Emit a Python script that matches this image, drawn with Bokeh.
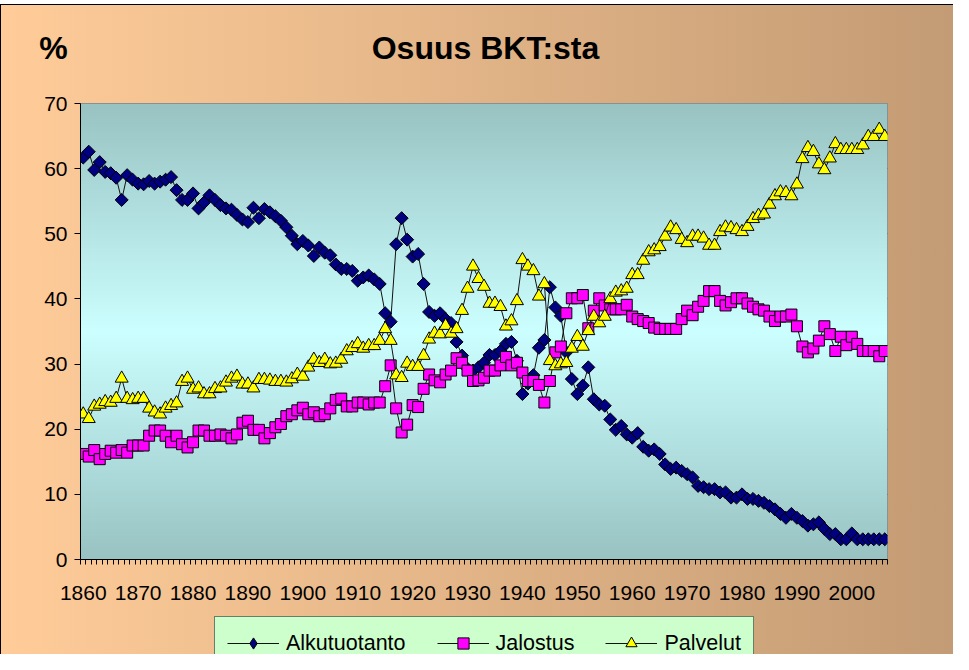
import numpy as np
from bokeh.plotting import figure
from bokeh.layouts import column
from bokeh.models import FixedTicker, Range1d, Legend, LegendItem, Label
from bokeh.embed import file_html
from bokeh.resources import INLINE

# ---------------- data ----------------
years = list(range(1860, 2007))

alkutuotanto = [
    61.7, 62.6, 59.8, 61.0, 59.5, 59.3, 58.6, 55.2, 59.0, 58.3,   # 1860s
    57.7, 57.6, 58.1, 57.7, 58.0, 58.3, 58.7, 56.7, 55.2, 55.2,   # 1870s
    56.2, 53.9, 54.8, 55.9, 55.2, 54.4, 53.9, 53.7, 52.9, 52.2,   # 1880s
    51.8, 54.0, 52.4, 53.8, 53.3, 52.7, 52.0, 51.0, 49.7, 48.4,   # 1890s
    48.9, 48.2, 46.6, 47.9, 47.1, 46.7, 45.3, 44.6, 44.6, 44.3,   # 1900s
    42.8, 43.3, 43.6, 43.0, 42.3, 37.8, 36.5, 48.4, 52.4, 49.1,   # 1910s
    46.5, 46.9, 42.3, 38.0, 37.4, 37.8, 36.9, 36.3, 33.4, 31.3,   # 1920s
    29.3, 29.0, 29.5, 30.2, 31.4, 31.4, 32.0, 33.1, 33.4, 30.5,   # 1930s
    25.4, 27.0, 28.3, 32.5, 33.7, 41.8, 38.7, 37.4, 31.8, 27.7,   # 1940s
    25.4, 26.7, 29.5, 24.6, 23.8, 23.6, 21.5, 19.9, 20.5, 19.2,   # 1950s
    18.7, 19.4, 17.3, 16.7, 16.9, 16.2, 14.6, 13.9, 14.1, 13.6,   # 1960s
    13.1, 12.6, 11.3, 11.1, 10.8, 10.8, 10.3, 10.3, 9.5, 9.5,     # 1970s
    10.0, 9.3, 9.3, 9.0, 8.7, 8.2, 7.7, 7.0, 6.4, 7.0,            # 1980s
    6.4, 5.9, 5.2, 5.4, 5.7, 4.7, 3.9, 3.9, 3.1, 3.1,             # 1990s
    4.0, 3.1, 3.1, 3.1, 3.1, 3.1, 3.1,                            # 2000-2006
]

jalostus = [
    16.2, 15.8, 16.8, 15.4, 16.2, 16.7, 16.4, 16.8, 16.4, 17.5,
    17.5, 17.5, 19.0, 19.8, 19.8, 19.0, 18.0, 19.0, 17.7, 17.2,
    18.0, 19.8, 19.8, 19.0, 19.0, 19.2, 19.0, 18.6, 19.2, 21.0,
    21.3, 19.9, 19.9, 18.6, 19.4, 20.3, 20.8, 22.0, 22.3, 22.9,
    23.3, 22.3, 22.6, 22.0, 22.3, 23.2, 24.5, 24.7, 23.5, 23.5,
    24.1, 24.1, 23.8, 24.1, 24.1, 26.6, 29.8, 23.2, 19.5, 20.7,
    23.7, 23.4, 26.2, 28.4, 27.5, 27.2, 28.4, 29.0, 30.9, 30.2,
    29.0, 27.4, 27.5, 27.9, 29.0, 29.0, 29.8, 31.1, 29.8, 30.2,
    28.7, 27.4, 27.4, 26.8, 24.1, 27.4, 31.8, 32.7, 37.8, 40.1,
    40.1, 40.6, 35.5, 38.2, 40.1, 39.0, 38.4, 38.4, 38.4, 39.1,
    37.3, 36.9, 36.6, 36.3, 35.6, 35.4, 35.4, 35.4, 35.4, 36.9,
    38.2, 37.5, 38.8, 39.7, 41.2, 41.2, 39.7, 39.0, 39.5, 40.1,
    40.1, 39.3, 38.8, 38.4, 38.2, 37.3, 36.6, 37.3, 37.3, 37.6,
    35.8, 32.7, 31.8, 32.4, 33.6, 35.8, 34.6, 32.0, 34.2, 32.9,
    34.2, 33.1, 32.0, 32.0, 32.0, 31.2, 32.0,
]

palvelut = [
    22.3, 21.6, 23.5, 23.8, 24.2, 24.1, 24.7, 27.8, 24.7, 24.5,
    24.7, 24.7, 23.2, 22.6, 22.3, 23.2, 23.6, 24.0, 27.3, 27.8,
    26.1, 26.3, 25.4, 25.4, 26.2, 26.3, 27.2, 27.8, 28.1, 26.9,
    26.9, 26.3, 27.6, 27.6, 27.5, 27.3, 27.3, 27.2, 27.7, 28.4,
    28.1, 29.5, 30.7, 30.2, 30.7, 30.0, 30.1, 30.7, 32.0, 32.5,
    33.1, 32.4, 32.8, 32.8, 33.6, 35.4, 33.6, 28.3, 27.9, 30.1,
    29.6, 29.6, 31.3, 33.8, 34.7, 34.6, 35.9, 34.7, 35.4, 38.2,
    41.6, 45.0, 43.1, 41.9, 39.3, 39.3, 38.8, 35.8, 36.6, 39.7,
    46.0, 45.0, 44.3, 40.4, 42.3, 30.5, 29.7, 30.0, 30.2, 32.4,
    34.2, 32.7, 35.1, 37.3, 36.3, 37.3, 40.0, 41.0, 41.2, 41.6,
    43.7, 43.7, 45.9, 47.2, 47.5, 48.0, 49.6, 51.0, 50.6, 49.1,
    48.6, 49.6, 49.6, 49.3, 48.2, 48.2, 50.3, 51.0, 50.9, 50.6,
    50.3, 51.1, 52.3, 52.8, 53.0, 54.5, 55.8, 56.4, 56.3, 55.8,
    57.6, 61.5, 63.2, 62.6, 60.7, 59.8, 61.6, 63.8, 62.9, 62.9,
    62.9, 62.9, 63.6, 64.9, 64.9, 66.0, 64.9,
]

x_label_years = list(range(1860, 2001, 10))
y_ticks = list(range(0, 71, 10))

series_names = ["Alkutuotanto", "Jalostus", "Palvelut"]
title_text = "Osuus BKT:sta"
unit_text = "%"

FONT = "Liberation Sans"
W = 953
H_HEAD, H_MAIN, H_LEG = 85, 526, 43
TOP_MAIN, FRAME_H = 18, 456

GRAD = "linear-gradient(to right, #FFCC99, #C39B74)"
LEFT_LINE = "linear-gradient(#000000,#000000) 0 0 / 1px 100% no-repeat"


def plain(fig):
    fig.border_fill_color = None
    fig.background_fill_color = None
    fig.outline_line_color = None
    fig.grid.visible = False


# ---------------- header (title and unit) ----------------
head = figure(width=W, height=H_HEAD, output_backend="svg", toolbar_location=None,
              x_range=Range1d(0, W), y_range=Range1d(0, H_HEAD),
              x_axis_location=None, y_axis_location=None, frame_align=False,
              min_border_left=0, min_border_right=0, min_border_top=0, min_border_bottom=0)
plain(head)
head.styles = {"background": ("linear-gradient(#ffffff,#ffffff) 0 0 / 100% 4px no-repeat, "
                              "linear-gradient(#000000,#000000) 0 4px / 100% 1px no-repeat, "
                              "linear-gradient(#000000,#000000) 0 4px / 1px 100% no-repeat, " + GRAD)}
head.add_layout(Label(x=485, y=H_HEAD - 47, text=title_text,
                      text_font=FONT, text_font_size="32px", text_font_style="bold",
                      text_align="center", text_baseline="middle", text_color="black"))
head.add_layout(Label(x=53, y=H_HEAD - 47, text=unit_text,
                      text_font=FONT, text_font_size="32px", text_font_style="bold",
                      text_align="center", text_baseline="middle", text_color="black"))

# ---------------- main plot ----------------
x0, x1 = years[0] - 0.5, years[-1] + 0.5
p = figure(width=W, height=H_MAIN, output_backend="svg", toolbar_location=None,
           x_range=Range1d(x0, x1), y_range=Range1d(y_ticks[0], y_ticks[-1]),
           frame_align=False,
           min_border_left=80, min_border_right=66, min_border_top=TOP_MAIN,
           min_border_bottom=H_MAIN - TOP_MAIN - FRAME_H)
p.border_fill_color = None
p.background_fill_color = None
p.outline_line_color = "#808080"
p.outline_line_width = 1
p.styles = {"background": LEFT_LINE + ", " + GRAD}

# plot-area gradient (dark at top and bottom, light in the middle)
n = 256
t = np.abs(np.linspace(-1, 1, n))
edge = np.array([0x99, 0xC3, 0xC3], dtype=float)
mid = np.array([0xCC, 0xFF, 0xFF], dtype=float)
cols = (mid[None, :] * (1 - t[:, None]) + edge[None, :] * t[:, None]).astype(np.uint32)
img = np.empty((n, 1), dtype=np.uint32)
img[:, 0] = (255 << 24) | (cols[:, 2] << 16) | (cols[:, 1] << 8) | cols[:, 0]
p.image_rgba(image=[img], x=x0, y=y_ticks[0], dw=x1 - x0, dh=y_ticks[-1] - y_ticks[0])

p.xgrid.visible = False
p.ygrid.ticker = FixedTicker(ticks=y_ticks)
p.ygrid.grid_line_color = "#1a1a1a"
p.ygrid.grid_line_width = 1

xa = p.xaxis[0]
xa.ticker = FixedTicker(ticks=x_label_years, minor_ticks=[y - 0.5 for y in years + [years[-1] + 1]])
xa.major_label_overrides = {y: str(y) for y in x_label_years}
xa.major_tick_out = 0
xa.major_tick_in = 0
xa.minor_tick_out = 5
xa.minor_tick_in = 0
xa.minor_tick_line_color = "black"
xa.axis_line_color = "black"
xa.major_label_text_font = FONT
xa.major_label_text_font_size = "21px"
xa.major_label_text_color = "black"
xa.major_label_standoff = 21

ya = p.yaxis[0]
ya.ticker = FixedTicker(ticks=y_ticks)
ya.major_tick_out = 6
ya.major_tick_in = 0
ya.minor_tick_out = 0
ya.minor_tick_in = 0
ya.major_tick_line_color = "black"
ya.axis_line_color = "black"
ya.major_label_text_font = FONT
ya.major_label_text_font_size = "21px"
ya.major_label_text_color = "black"
ya.major_label_standoff = 7

STY = [dict(marker="square", angle=np.pi / 4, size=9.2, fill_color="#000080"),
       dict(marker="square", angle=0.0, size=11, fill_color="#FF00FF"),
       dict(marker="triangle", angle=0.0, size=13, fill_color="#FFFF00")]
series = [alkutuotanto, jalostus, palvelut]

for vals, st in zip(series, STY):
    p.line(years, vals, line_color="#111111", line_width=1)
    p.scatter(years, vals, line_color="black", line_width=1, **st)

# ---------------- legend strip ----------------
# (its renderers hold real data points, outside this strip's ranges,
#  so only their legend swatches are visible)
leg = figure(width=W, height=H_LEG, output_backend="svg", toolbar_location=None,
             x_range=Range1d(0, 1), y_range=Range1d(0, 1),
             x_axis_location=None, y_axis_location=None, frame_align=False,
             min_border_left=0, min_border_right=0, min_border_top=0, min_border_bottom=0)
plain(leg)
leg.styles = {"background": LEFT_LINE + ", " + GRAD}

LEG_MARK = [dict(marker="diamond", size=14, fill_color="#000080"),
            dict(marker="square", size=10, fill_color="#FF00FF"),
            dict(marker="triangle", size=12, fill_color="#FFFF00")]

items = []
for name, vals, st in zip(series_names, series, LEG_MARK):
    lr = leg.line(x=years[:2], y=vals[:2], line_color="#111111", line_width=1)
    sr = leg.scatter(x=years[:1], y=vals[:1], line_color="black", line_width=1, **st)
    items.append(LegendItem(label=name, renderers=[lr, sr]))

legend = Legend(items=items, orientation="horizontal", location=(214, -16),
                label_text_font=FONT, label_text_font_size="21.5px",
                label_text_color="black",
                glyph_width=52, glyph_height=28, label_standoff=7,
                spacing=31, padding=12, margin=0,
                background_fill_color="#CCFFCC", background_fill_alpha=1,
                border_line_color="black", border_line_width=1)
leg.add_layout(legend)

layout = column(head, p, leg, spacing=0)
open("out.html", "w").write(file_html(layout, INLINE))
